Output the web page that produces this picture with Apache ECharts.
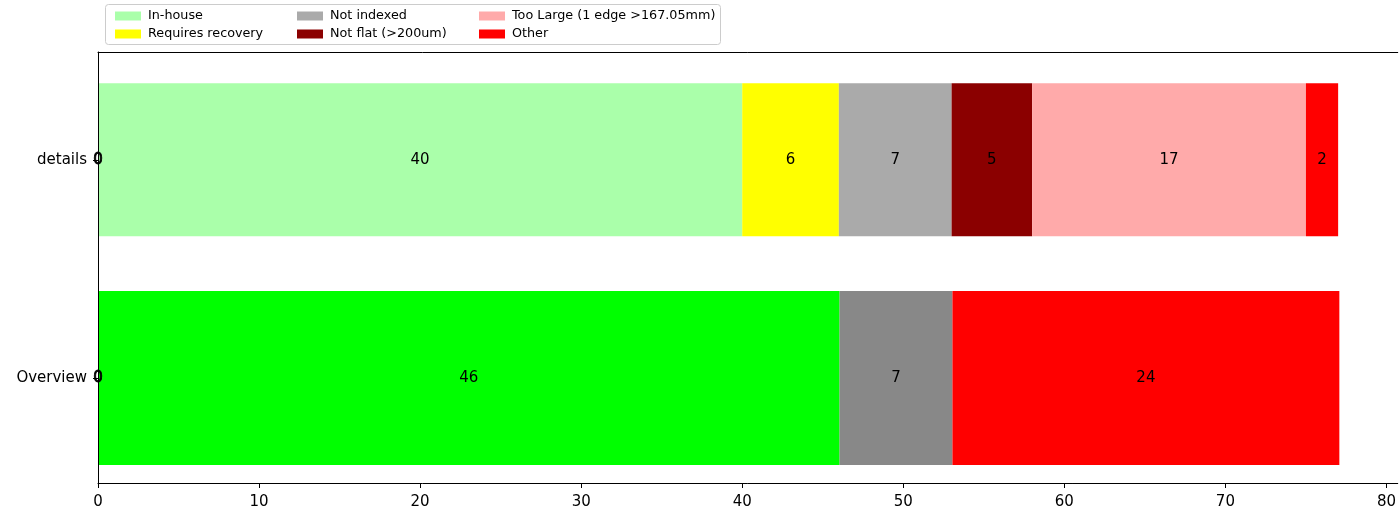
<!DOCTYPE html>
<html>
<head>
<meta charset="utf-8">
<script src="https://cdn.jsdelivr.net/npm/echarts@6/dist/echarts.min.js"></script>
<style>
html,body{margin:0;padding:0;background:#fff;}
#chart{width:1399px;height:510px;}
</style>
</head>
<body>
<div id="chart"></div>
<script>
// ---- data ----
const categories = ['Overview', 'details'];
const detailsNames = ['In-house', 'Requires recovery', 'Not indexed', 'Not flat (>200um)', 'Too Large (1 edge >167.05mm)', 'Other'];
const detailsValues = [40, 6, 7, 5, 17, 2];
const detailsColors = ['#aaffaa', '#ffff00', '#aaaaaa', '#8b0000', '#ffaaaa', '#ff0000'];
const overviewNames = ['Overview In-house', 'Overview Not indexed', 'Overview Other'];
const overviewValues = [46, 7, 24];
const overviewColors = ['#00ff00', '#888888', '#ff0000'];
const zeroValues = [0, 0];
const xTicks = [0, 10, 20, 30, 40, 50, 60, 70, 80];

const FONT = 'DejaVu Sans';
const labelStyle = {show: true, position: 'inside', color: '#000', fontSize: 15, fontFamily: FONT};
const zeroLabel = Object.assign({}, labelStyle, {textBorderColor: '#000', textBorderWidth: 0.8});

const series = [];
// zero-width segments labelled "0"
series.push({
  name: 'zero-details', type: 'bar', stack: 'details', xAxisIndex: 0, yAxisIndex: 0, barWidth: 153,
  data: [null, zeroValues[1]], itemStyle: {color: '#8b0000'}, label: zeroLabel, silent: true
});
detailsNames.forEach((n, i) => {
  series.push({
    name: n, type: 'bar', stack: 'details', xAxisIndex: 0, yAxisIndex: 0, barWidth: 153,
    data: [null, detailsValues[i]], itemStyle: {color: detailsColors[i]},
    label: labelStyle
  });
});
series.push({
  name: 'zero-overview', type: 'bar', stack: 'overview', xAxisIndex: 2, yAxisIndex: 1, barWidth: 174,
  data: [zeroValues[0], null], itemStyle: {color: '#00ff00'}, label: zeroLabel, silent: true
});
overviewNames.forEach((n, i) => {
  series.push({
    name: n, type: 'bar', stack: 'overview', xAxisIndex: 2, yAxisIndex: 1, barWidth: 174,
    data: [overviewValues[i], null], itemStyle: {color: overviewColors[i]},
    label: labelStyle
  });
});

const legendCommon = {
  orient: 'vertical', top: 4, itemWidth: 26, itemHeight: 9, itemGap: 4,
  icon: 'rect', z: 10,
  textStyle: {fontSize: 12.75, fontFamily: FONT, color: '#000', lineHeight: 14, padding: [0, 0, 0, 2]}
};

const X_MAX = 80.7;

const chart = echarts.init(document.getElementById('chart'), null, {renderer: 'canvas'});
chart.setOption({
  animation: false,
  backgroundColor: '#fff',
  graphic: [{
    type: 'rect', z: 1,
    shape: {x: 105.5, y: 4.5, width: 615, height: 40, r: 3},
    style: {fill: '#fff', stroke: '#cccccc', lineWidth: 1}
  }],
  legend: [
    Object.assign({}, legendCommon, {left: 110, data: [detailsNames[0], detailsNames[1]]}),
    Object.assign({}, legendCommon, {left: 292, data: [detailsNames[2], detailsNames[3]]}),
    Object.assign({}, legendCommon, {left: 474, data: [detailsNames[4], detailsNames[5]]})
  ],
  grid: [
    {left: 98, top: 52, right: 0, height: 432, show: false, containLabel: false},
    {left: 98, top: 54, right: 0, height: 432, show: false, containLabel: false}
  ],
  xAxis: [{
    gridIndex: 0, type: 'value', min: 0, max: X_MAX, position: 'bottom', z: 5,
    axisLine: {show: true, lineStyle: {color: '#000', width: 1}},
    axisTick: {show: true, length: 5, lineStyle: {color: '#000', width: 1}, customValues: xTicks},
    splitLine: {show: false},
    axisLabel: {
      color: '#000', fontSize: 15, fontFamily: FONT, margin: 12, customValues: xTicks,
      formatter: v => String(v)
    }
  }, {
    gridIndex: 0, type: 'value', min: 0, max: X_MAX, position: 'top',
    axisLine: {show: true, lineStyle: {color: '#000', width: 1}},
    axisTick: {show: false}, axisLabel: {show: false}, splitLine: {show: false}
  }, {
    gridIndex: 1, type: 'value', min: 0, max: X_MAX, show: false
  }],
  yAxis: [{
    gridIndex: 0, type: 'category', data: categories, z: 5,
    axisLine: {show: true, lineStyle: {color: '#000', width: 1}},
    axisTick: {show: true, alignWithLabel: true, length: 5, lineStyle: {color: '#000'},
      interval: (idx) => idx === 1},
    splitLine: {show: false},
    axisLabel: {color: '#000', fontSize: 15, fontFamily: FONT, margin: 11,
      formatter: v => (v === 'details' ? v : '')}
  }, {
    gridIndex: 1, type: 'category', data: categories, z: 5,
    axisLine: {show: false},
    axisTick: {show: true, alignWithLabel: true, length: 5, lineStyle: {color: '#000'},
      interval: (idx) => idx === 0},
    splitLine: {show: false},
    axisLabel: {color: '#000', fontSize: 15, fontFamily: FONT, margin: 11,
      formatter: v => (v === 'Overview' ? v : '')}
  }],
  series: series
});
</script>
</body>
</html>
